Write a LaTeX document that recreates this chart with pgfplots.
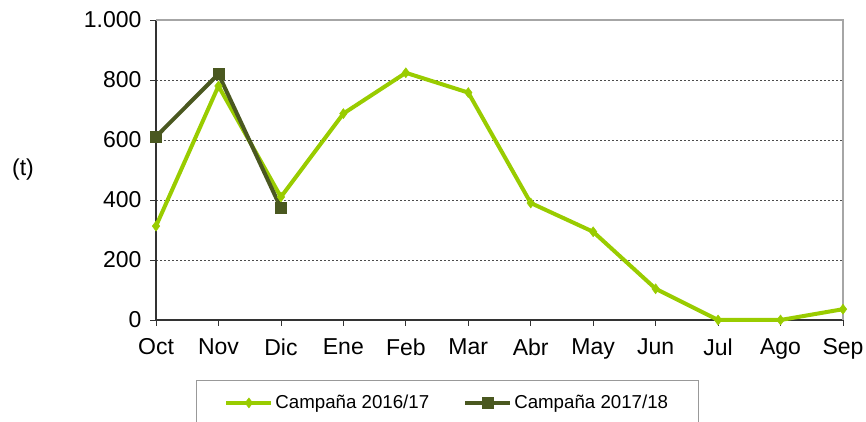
\documentclass[border=0pt]{standalone}
\usepackage{pgfplots}
\pgfplotsset{compat=1.18}
\usepackage{fontspec}
\setmainfont{Liberation Sans}
\definecolor{lgreen}{RGB}{153,204,0}
\definecolor{dgreen}{RGB}{74,88,32}
\begin{document}
\begin{tikzpicture}[x=1pt,y=1pt]
\clip (0,0) rectangle (866,422);
\useasboundingbox (0,0) rectangle (866,422);
\node[font=\fontsize{23}{26}\selectfont] at (23,252) {(t)};
\begin{axis}[
  at={(156pt,102pt)}, anchor=south west,
  scale only axis, width=687pt, height=300pt,
  clip=false,
  xmin=0, xmax=11, ymin=0, ymax=1000,
  axis lines*=left,
  axis line style={black!80, line width=1.2pt},
  xtick={0,...,11},
  xticklabels={Oct,Nov,Dic,Ene,Feb,Mar,Abr,May,Jun,Jul,Ago,Sep},
  ytick={0,200,400,600,800},
  yticklabels={0,200,400,600,800},
  extra y ticks={1000},
  extra y tick labels={1.000},
  extra y tick style={grid=none},
  tick align=outside, major tick length=6pt,
  tick style={black!80, line width=0.8pt},
  tick label style={font=\fontsize{23}{26}\selectfont, text=black},
  yticklabel style={xshift=-5pt},
  xticklabel style={yshift=-9pt},
  ymajorgrids,
  grid style={black!70, line width=0.6pt, dash pattern=on 2pt off 2pt},
  legend style={at={(axis description cs:0.0582,-0.2)}, anchor=north west,
    draw=gray!80, line width=0.8pt, inner xsep=28pt, inner ysep=12pt,
    font=\fontsize{18.7}{22}\selectfont,
    nodes={inner xsep=2pt, inner ysep=3pt},
    /tikz/every even column/.append style={column sep=32pt}},
  legend columns=2,
  legend image code/.code={\draw[mark repeat=2,mark phase=2,#1] plot coordinates {(0pt,0pt) (22.5pt,0pt) (45pt,0pt)};},
]
\draw[gray!70, line width=1.2pt] (rel axis cs:0,1) -- (rel axis cs:1,1) -- (rel axis cs:1,0);
\addplot[lgreen, line width=4pt, mark=diamond*, mark size=5pt, mark options={line width=0.5pt}]
  coordinates {(0,313) (1,780) (2,410) (3,688) (4,824) (5,758) (6,390) (7,294) (8,104) (9,0) (10,0) (11,36)};
\addlegendentry{Campaña 2016/17}
\addplot[dgreen, line width=4pt, mark=square*, mark size=5.5pt, mark options={line width=0.5pt}]
  coordinates {(0,611) (1,820) (2,373)};
\addlegendentry{Campaña 2017/18}
\end{axis}
\end{tikzpicture}
\end{document}
